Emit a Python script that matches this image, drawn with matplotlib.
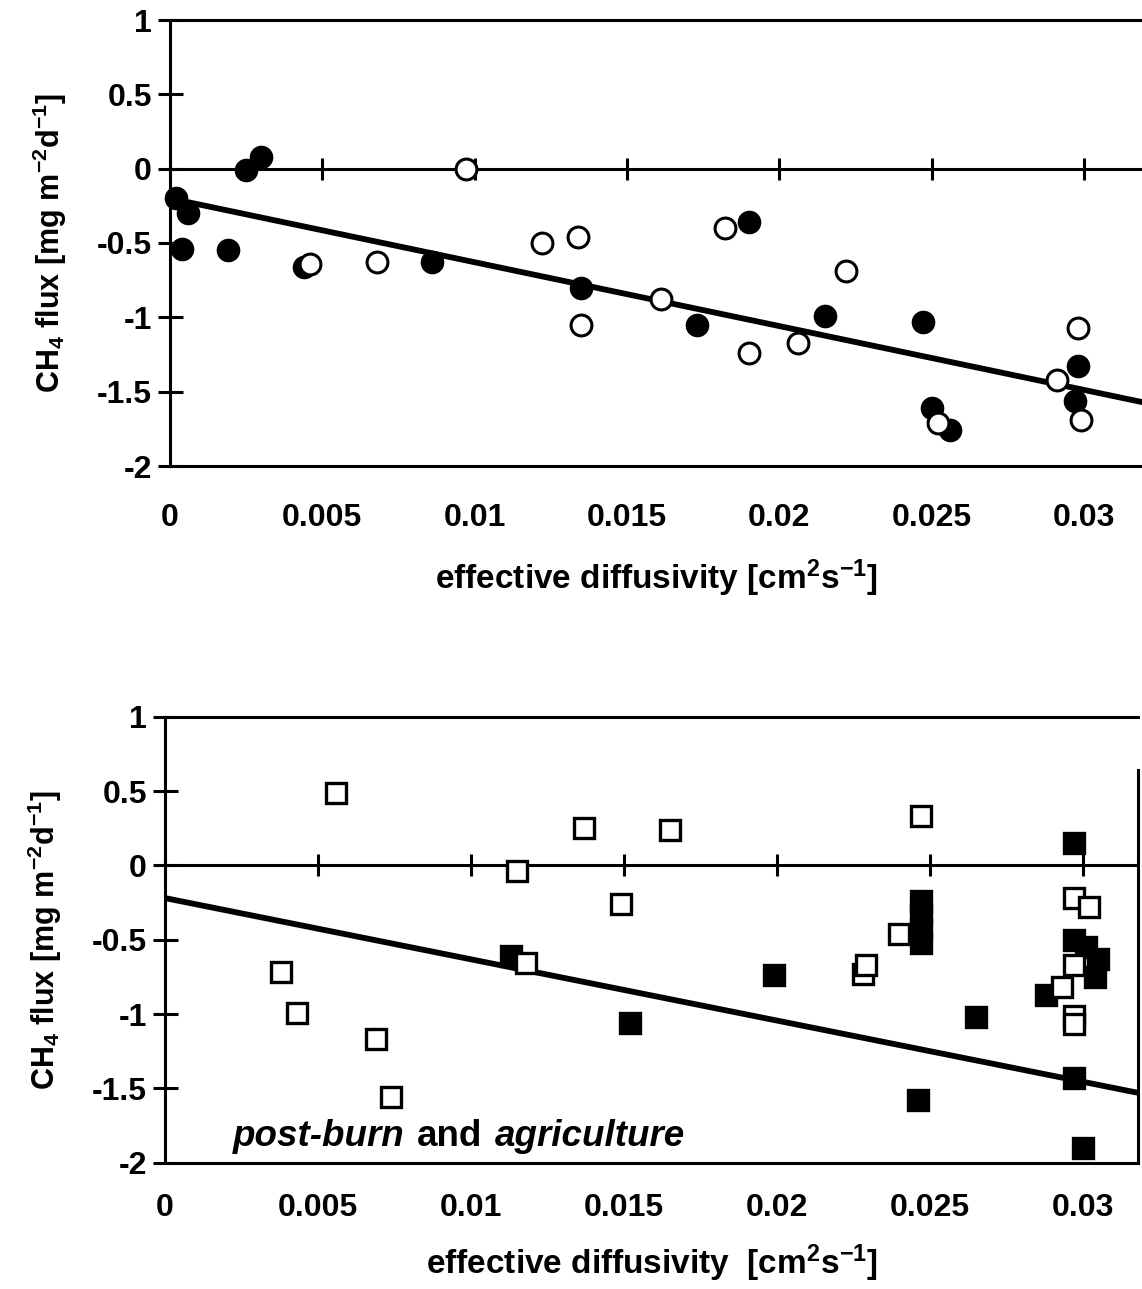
'''
CH4 flux vs effective diffusivity, two panels.
'''
import matplotlib
matplotlib.use('Agg')
import matplotlib.pyplot as plt

plt.rcParams['font.family'] = ['Liberation Sans', 'DejaVu Sans']
plt.rcParams['font.weight'] = 'bold'
plt.rcParams['axes.labelweight'] = 'bold'
plt.rcParams['font.size'] = 23
plt.rcParams['mathtext.fontset'] = 'custom'
plt.rcParams['mathtext.rm'] = 'Liberation Sans:bold'
plt.rcParams['mathtext.bf'] = 'Liberation Sans:bold'
plt.rcParams['mathtext.it'] = 'Liberation Sans:bold:italic'
plt.rcParams['mathtext.default'] = 'bf'

# --- data ---
# top panel: circles
top_filled_x = [0.0002, 0.0006, 0.0004, 0.0019, 0.0025, 0.0030, 0.0044, 0.0086, 0.0135,
                0.0173, 0.0190, 0.0215, 0.0247, 0.0250, 0.0256, 0.0297, 0.0298]
top_filled_y = [-0.20, -0.30, -0.54, -0.55, -0.01, 0.08, -0.66, -0.63, -0.80,
                -1.05, -0.36, -0.99, -1.03, -1.61, -1.76, -1.56, -1.33]
top_open_x = [0.0046, 0.0068, 0.0097, 0.0122, 0.0134, 0.0135, 0.0161, 0.0182,
              0.0190, 0.0206, 0.0222, 0.0252, 0.0291, 0.0298, 0.0299]
top_open_y = [-0.64, -0.63, 0.00, -0.50, -0.46, -1.05, -0.88, -0.40,
              -1.24, -1.17, -0.69, -1.71, -1.42, -1.07, -1.69]

# bottom panel: squares (post-burn and agriculture)
bot_filled_x = [0.0113, 0.0152, 0.0199, 0.0247, 0.0247, 0.0247, 0.0247, 0.0246, 0.0265,
                0.0297, 0.0297, 0.0301, 0.0305, 0.0304, 0.0288, 0.0297, 0.0300]
bot_filled_y = [-0.61, -1.06, -0.74, -0.24, -0.33, -0.43, -0.52, -1.58, -1.02,
                0.15, -0.50, -0.55, -0.63, -0.75, -0.87, -1.43, -1.90]
bot_open_x = [0.0038, 0.0043, 0.0056, 0.0069, 0.0074, 0.0115, 0.0118, 0.0137, 0.0149, 0.0165,
              0.0228, 0.0229, 0.0240, 0.0247, 0.0293, 0.0297, 0.0297, 0.0297, 0.0297, 0.0302]
bot_open_y = [-0.72, -0.99, 0.49, -1.17, -1.56, -0.04, -0.66, 0.25, -0.26, 0.24,
              -0.73, -0.67, -0.46, 0.33, -0.82, -0.22, -0.67, -1.01, -1.07, -0.28]

# regression line end points
top_fit_x = [0.0, 0.0319]
top_fit_y = [-0.20, -1.57]
bot_fit_x = [0.0, 0.0318]
bot_fit_y = [-0.22, -1.53]

x_ticks = [0, 0.005, 0.01, 0.015, 0.02, 0.025, 0.03]
x_labels = ['0', '0.005', '0.01', '0.015', '0.02', '0.025', '0.03']
y_ticks = [-2, -1.5, -1, -0.5, 0, 0.5, 1]
y_labels = ['-2', '-1.5', '-1', '-0.5', '0', '0.5', '1']

ylab = r'CH$_4$ flux [mg m$^{-2}$d$^{-1}$]'

W, H = 1142, 1289
fig = plt.figure(figsize=(W / 100, H / 100), dpi=100)


def setup(ax, xmax, xlabel, tickpad, labelpad):
    ax.set_xlim(0, xmax)
    ax.set_ylim(-2, 1)
    for s in ['left', 'top', 'bottom', 'right']:
        ax.spines[s].set_linewidth(2.2)
    ax.spines['right'].set_visible(False)
    ax.set_yticks(y_ticks, y_labels)
    ax.tick_params(axis='y', direction='inout', length=18, width=2.2, pad=4)
    ax.set_xticks(x_ticks, x_labels)
    ax.tick_params(axis='x', length=0, pad=tickpad)
    ax.set_xlabel(xlabel, labelpad=labelpad, fontsize=24)
    ax.set_ylabel(ylab, labelpad=20, fontsize=22)
    # x axis crossing at y = 0 with tick marks
    zero = ax.secondary_xaxis(0, transform=ax.transData)
    zero.set_xticks(x_ticks)
    zero.tick_params(direction='inout', length=16, width=2.2,
                     labelbottom=False, labeltop=False)
    for s in zero.spines.values():
        s.set_linewidth(2.2)


# top panel
ax1 = fig.add_axes([170 / W, 1 - 466 / H, (W - 170) / W, 446 / H])
setup(ax1, 0.0319, r'effective diffusivity [cm$^2$s$^{-1}$]', 27, 17)
ax1.plot(top_fit_x, top_fit_y, color='black', lw=4.2, zorder=3, clip_on=False)
ax1.plot(top_filled_x, top_filled_y, 'o', ms=15, mfc='black', mec='black', mew=2,
         zorder=4, clip_on=False)
ax1.plot(top_open_x, top_open_y, 'o', ms=15, mfc='white', mec='black', mew=2.2,
         zorder=5, clip_on=False)

# bottom panel
ax2 = fig.add_axes([165 / W, 1 - 1162.7 / H, (1138 - 165) / W, 446 / H])
setup(ax2, 0.0318, r'effective diffusivity  [cm$^2$s$^{-1}$]', 22, 14)
ax2.spines['right'].set_visible(True)
ax2.spines['right'].set_bounds(-2, 0.64)
ax2.plot(bot_fit_x, bot_fit_y, color='black', lw=4.2, zorder=3)
ax2.plot(bot_filled_x, bot_filled_y, 's', ms=15, mfc='black', mec='black', mew=2.4,
         zorder=4, clip_on=False)
ax2.plot(bot_open_x, bot_open_y, 's', ms=15, mfc='white', mec='black', mew=2.4,
         zorder=5, clip_on=False)

t1 = ax2.text(0.0022, -1.89, 'post-burn', style='italic', weight='bold',
              va='baseline', fontsize=26.5)
t2 = ax2.annotate('and', xy=(1, 0), xycoords=t1, xytext=(9, 0), fontsize=26.5,
                  textcoords='offset points', va='bottom', weight='bold')
t3 = ax2.annotate('agriculture', xy=(1, 0), xycoords=t2, xytext=(9, 0), fontsize=26.5,
                  textcoords='offset points', va='bottom', style='italic', weight='bold')

fig.savefig('out.png', dpi=100)
